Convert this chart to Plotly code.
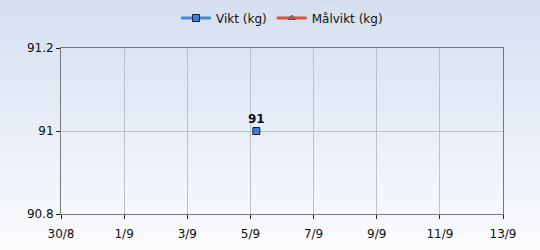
import plotly.graph_objects as go

# Data
dates = ["2023-09-05 04:30"]
vikt = [91]
malvikt_dates = [None]
malvikt = [None]
tick_dates = ["2023-08-30", "2023-09-01", "2023-09-03", "2023-09-05",
              "2023-09-07", "2023-09-09", "2023-09-11", "2023-09-13"]
tick_labels = ["30/8", "1/9", "3/9", "5/9", "7/9", "9/9", "11/9", "13/9"]
y_ticks = [90.8, 91, 91.2]
y_labels = ["90.8", "91", "91.2"]

fig = go.Figure()
fig.add_trace(go.Scatter(
    x=dates, y=vikt, name="Vikt (kg)", mode="lines+markers+text",
    text=[str(v) for v in vikt], textposition="top center",
    textfont=dict(family="DejaVu Sans", size=12, color="#111111", weight="bold"),
    line=dict(color="#4a86d8", width=3),
    marker=dict(symbol="square", size=7, color="#3f7fd8",
                line=dict(color="#1a1a2a", width=1)),
))
fig.add_trace(go.Scatter(
    x=malvikt_dates, y=malvikt, name="Målvikt (kg)", mode="lines+markers",
    line=dict(color="#e0503c", width=3),
    marker=dict(symbol="triangle-up", size=6, color="#e0503c",
                line=dict(color="#555555", width=1)),
))

# gradient background
n = 50
top = (213, 223, 240)
bot = (251, 252, 254)
shapes = []
H = 250
ph = 166
for i in range(n):
    t = i / (n - 1)
    c = tuple(round(top[k] + (bot[k] - top[k]) * t) for k in range(3))
    y0p = H - (i + 1) * H / n
    y1p = H - i * H / n
    shapes.append(dict(type="rect", xref="paper", yref="paper",
                       x0=-0.2, x1=1.2,
                       y0=(y0p - 36) / ph - 0.002, y1=(y1p - 36) / ph + 0.002,
                       fillcolor="rgb(%d,%d,%d)" % c, line=dict(width=0),
                       layer="below"))

fig.update_layout(
    width=540, height=250,
    margin=dict(l=61, r=37, t=48, b=36, autoexpand=False),
    paper_bgcolor="#ffffff", plot_bgcolor="rgba(0,0,0,0)",
    shapes=shapes,
    font=dict(family="DejaVu Sans", size=12, color="#111111"),
    showlegend=True,
    legend=dict(orientation="h", x=0.5, xanchor="center",
                yref="container", y=1 - 18 / 250, yanchor="middle",
                bgcolor="rgba(0,0,0,0)", font=dict(size=12), itemwidth=30,
                traceorder="normal"),
    xaxis=dict(type="date", range=[tick_dates[0], tick_dates[-1]],
               tickvals=tick_dates, ticktext=tick_labels,
               showgrid=True, gridcolor="#bcc0c8", gridwidth=1,
               showline=True, linecolor="#777777", linewidth=1, mirror=True,
               ticks="outside", ticklen=4, tickcolor="#222222",
               ticklabelstandoff=5,
               zeroline=False, tickfont=dict(size=12)),
    yaxis=dict(range=[90.8, 91.2], tickvals=y_ticks, ticktext=y_labels,
               showgrid=True, gridcolor="#bcc0c8", gridwidth=1,
               showline=True, linecolor="#777777", linewidth=1, mirror=True,
               ticks="outside", ticklen=4, tickcolor="#222222",
               zeroline=False, tickfont=dict(size=12)),
)

fig.write_html("out.html")
